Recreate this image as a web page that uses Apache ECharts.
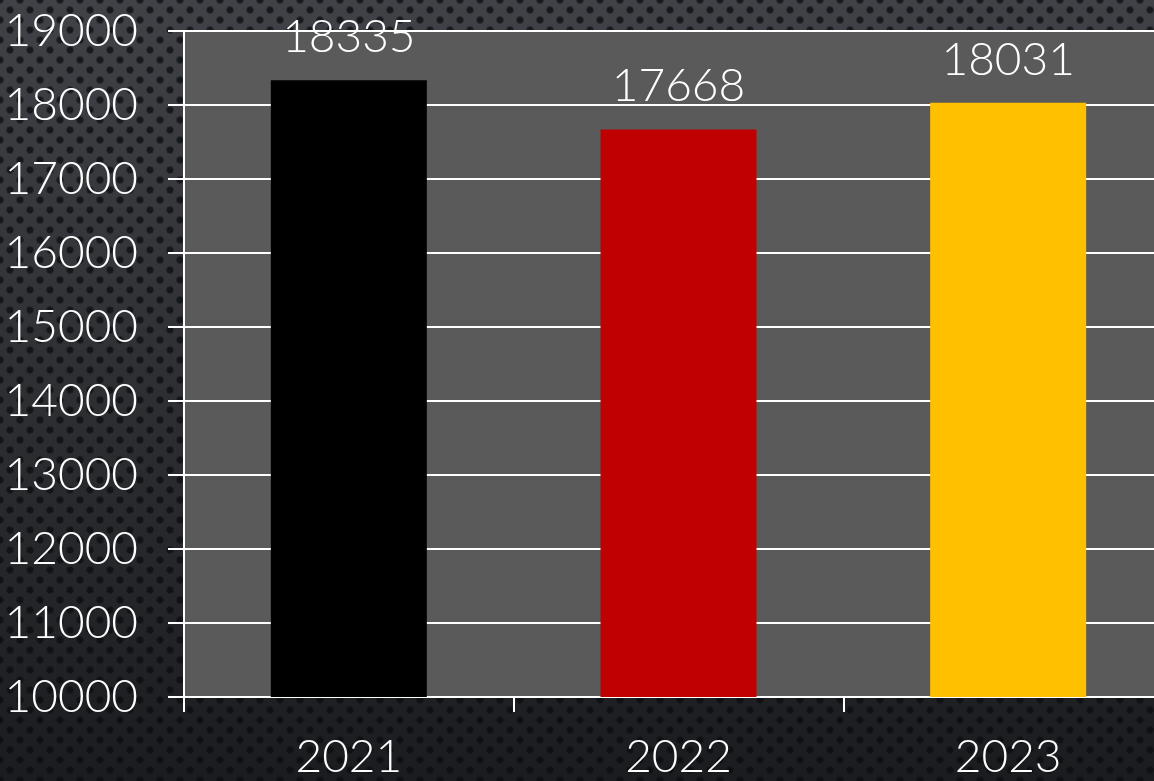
<!DOCTYPE html>
<html>
<head>
<meta charset="utf-8">
<script src="https://cdn.jsdelivr.net/npm/echarts@6/dist/echarts.min.js"></script>
<style>
html, body {
  margin: 0;
  padding: 0;
  width: 1154px;
  height: 781px;
  overflow: hidden;
}
body {
  background-color: #26282b;
  background-image:
    radial-gradient(circle at 50% 50%, rgba(10,12,15,0.75) 2.5px, rgba(0,0,0,0) 4.5px),
    radial-gradient(circle at 50% 50%, rgba(10,12,15,0.75) 2.5px, rgba(0,0,0,0) 4.5px),
    linear-gradient(#404247, #1b1c1f);
  background-size: 20px 20px, 20px 20px, 100% 100%;
  background-position: 0 0, 10px 10px, 0 0;
}
#main {
  width: 1154px;
  height: 781px;
}
</style>
</head>
<body>
<div id="main"></div>
<script>
var years = ["2021", "2022", "2023"];
var values = [18335, 17668, 18031];
var barColors = ["#000000", "#c00000", "#ffc000"];

var font = "Lato";

var myChart = echarts.init(document.getElementById("main"));
myChart.setOption({
  backgroundColor: "transparent",
  animation: false,
  grid: {
    left: 184,
    top: 31,
    right: -19,
    bottom: 84,
    outerBoundsMode: "none",
    containLabel: false,
    show: true,
    backgroundColor: "#5a5a5a",
    borderWidth: 0
  },
  xAxis: {
    type: "category",
    data: years,
    axisLine: { lineStyle: { color: "#ffffff", width: 2 } },
    axisTick: { show: true, length: 15, lineStyle: { color: "#ffffff", width: 2 } },
    axisLabel: {
      color: "#ffffff",
      fontFamily: font,
      fontWeight: 300,
      fontSize: 46,
      margin: 37
    }
  },
  yAxis: {
    type: "value",
    min: 10000,
    max: 19000,
    interval: 1000,
    axisLine: { show: true, lineStyle: { color: "#ffffff", width: 2 } },
    axisTick: { show: true, length: 16, lineStyle: { color: "#ffffff", width: 2 } },
    splitLine: { lineStyle: { color: "#ffffff", width: 2 } },
    axisLabel: {
      color: "#ffffff",
      fontFamily: font,
      fontWeight: 300,
      fontSize: 46,
      margin: 46,
      formatter: function (v) { return String(v); }
    }
  },
  series: [
    {
      type: "bar",
      barWidth: 156,
      data: values.map(function (v, i) {
        return { value: v, itemStyle: { color: barColors[i] } };
      }),
      label: {
        show: true,
        position: "top",
        distance: 20,
        color: "#ffffff",
        fontFamily: font,
        fontWeight: 300,
        fontSize: 46
      }
    }
  ]
});
</script>
</body>
</html>
